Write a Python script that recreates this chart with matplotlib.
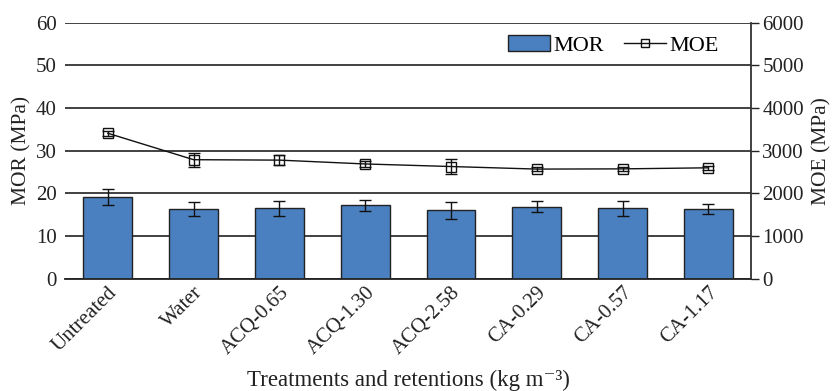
import matplotlib.pyplot as plt
from matplotlib.lines import Line2D
from matplotlib.legend_handler import HandlerTuple
import numpy as np

plt.rcParams['font.family'] = ['Liberation Serif', 'DejaVu Serif']

treatments = ["Untreated", "Water", "ACQ-0.65", "ACQ-1.30", "ACQ-2.58",
              "CA-0.29", "CA-0.57", "CA-1.17"]
mor = [19.2, 16.4, 16.5, 17.2, 16.1, 16.9, 16.5, 16.3]
mor_err = [1.9, 1.6, 1.8, 1.3, 2.0, 1.25, 1.7, 1.2]
moe = [3410, 2790, 2780, 2690, 2630, 2570, 2575, 2600]
moe_err = [60, 160, 110, 60, 180, 40, 40, 50]

fig = plt.figure(figsize=(8.32, 3.91), dpi=100)
ax = fig.add_axes([0.078, 0.287, 0.825, 0.655])
x = np.arange(len(treatments))

# gridlines behind the bars
ax.set_axisbelow(True)
ax.yaxis.grid(True, color="#333333", linewidth=1.3)
bars = ax.bar(x, mor, width=0.57, color="#4a80c0", edgecolor="#222222",
              linewidth=1.0, label="MOR", zorder=2)
ax.errorbar(x, mor, yerr=mor_err, fmt="none", ecolor="#111111",
            elinewidth=1.0, capsize=4, capthick=1.0, zorder=3)
ax.set_ylim(0, 60)
ax.set_xlim(-0.5, len(treatments) - 0.5)
ax.set_yticks(range(0, 61, 10))
ax.set_xticks(x)
ax.set_xticklabels(treatments, rotation=45, ha="right", rotation_mode="anchor")
ax.tick_params(axis="y", length=0, pad=6, labelsize=15, colors="#222222")
ax.tick_params(axis="x", length=0, pad=3, labelsize=15, colors="#222222")
for s in ["top", "left", "right"]:
    ax.spines[s].set_visible(False)
ax.spines["bottom"].set_color("#222222")
ax.spines["bottom"].set_linewidth(1.3)
ax.set_ylabel("MOR (MPa)", fontsize=15.5, color="#222222", labelpad=3)
ax.set_xlabel("Treatments and retentions (kg m\u207b\u00b3)", fontsize=16.5,
              color="#222222", labelpad=8)

ax2 = ax.twinx()
# white squares first, then line and error bars over them (crossed look)
ax2.plot(x, moe, linestyle="none", marker="s", markersize=7,
         markerfacecolor="white", markeredgecolor="#111111",
         markeredgewidth=1.0, zorder=3)
ax2.errorbar(x, moe, yerr=moe_err, color="#111111", linewidth=1.0,
             ecolor="#111111", elinewidth=1.0, capsize=4, zorder=4)
ax2.set_ylim(0, 6000)
ax2.set_yticks(range(0, 6001, 1000))
ax2.tick_params(axis="y", direction="out", length=6, width=1.0, pad=2,
                labelsize=15, colors="#222222")
for s in ["top", "left", "bottom"]:
    ax2.spines[s].set_visible(False)
ax2.spines["right"].set_color("#333333")
ax2.spines["right"].set_linewidth(1.3)
ax2.set_ylabel("MOE (MPa)", fontsize=15.5, color="#222222", labelpad=6)

moe_mark = Line2D([], [], linestyle="none", marker="s", markersize=6,
                  markerfacecolor="white", markeredgecolor="#111111")
moe_line = Line2D([], [], color="#111111", linewidth=1.0)
ax2.legend([bars, (moe_mark, moe_line)], ["MOR", "MOE"],
           handler_map={tuple: HandlerTuple(ndivide=1)},
           loc="upper right", bbox_to_anchor=(0.982, 1.03),
           ncol=2, frameon=False, fontsize=16, handlelength=1.9,
           handletextpad=0.15, columnspacing=0.9)

fig.savefig("out.png", dpi=100)
